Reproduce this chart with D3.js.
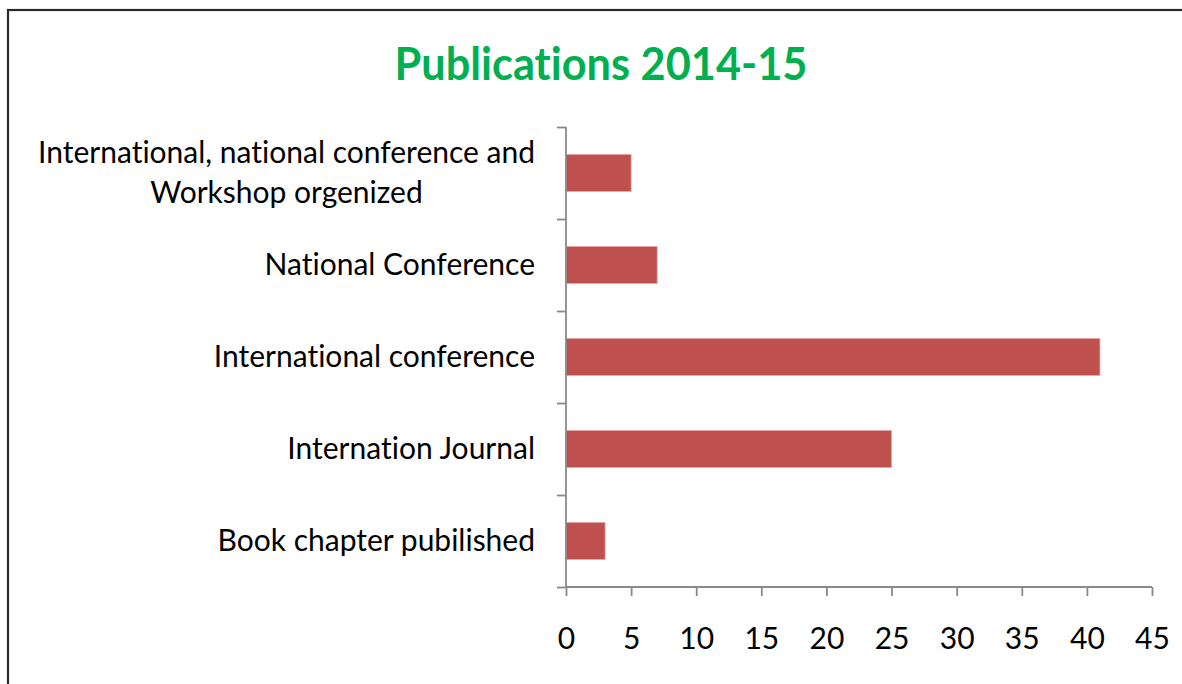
<!DOCTYPE html>
<html>
<head>
<meta charset="utf-8">
<script src="https://cdn.jsdelivr.net/npm/d3@7"></script>
<style>
  html, body { margin: 0; padding: 0; background: #fff; overflow: hidden; }
  text { font-family: Lato, 'Open Sans', sans-serif; font-variant-ligatures: none; }
</style>
</head>
<body>
<div id="box"></div>
<script>
// data, top to bottom as drawn
const categories = [
  'International, national conference and\nWorkshop orgenized',
  'National Conference',
  'International conference',
  'Internation Journal',
  'Book chapter pubilished'
]
const values = [5, 7, 41, 25, 3]
const xTicks = [0, 5, 10, 15, 20, 25, 30, 35, 40, 45]
const title = 'Publications 2014-15'

const width = 1182
const height = 684
const padding = { top: 127, left: 566, right: 30, bottom: 97 }

const axisColor = '#898989'
const barColor = '#C0504D'
const labelSize = 30

const svg = d3.select('#box').append('svg')
  .attr('width', width).attr('height', height)

// outer frame (only left and top edges are visible)
svg.append('rect')
  .attr('x', 8).attr('y', 10)
  .attr('width', 1300).attr('height', 800)
  .attr('fill', 'none')
  .attr('stroke', '#2a2a2a')
  .attr('stroke-width', 2.2)

svg.append('text')
  .attr('x', 601).attr('y', 80)
  .attr('text-anchor', 'middle')
  .attr('fill', '#00B050')
  .attr('font-size', 46)
  .attr('font-weight', 'bold')
  .attr('textLength', 413)
  .attr('lengthAdjust', 'spacingAndGlyphs')
  .text(title)

const plotW = 1152 - padding.left
const plotH = height - padding.top - padding.bottom

const x = d3.scaleLinear()
  .domain([0, d3.max(xTicks)])
  .range([0, plotW])

const y = d3.scaleBand()
  .domain(d3.range(categories.length))
  .range([0, plotH])
  .paddingInner(0.6)
  .paddingOuter(0.3)

// boundaries between the categories, for the y axis ticks
const yEdge = d3.scaleLinear()
  .domain([0, categories.length])
  .range([0, plotH])

const g = svg.append('g')
  .attr('transform', `translate(${padding.left}, ${padding.top})`)

// bars
g.selectAll('rect.bar')
  .data(values)
  .join('rect')
  .attr('class', 'bar')
  .attr('x', 0)
  .attr('y', (d, i) => y(i))
  .attr('width', d => x(d))
  .attr('height', y.bandwidth())
  .attr('fill', barColor)
  .attr('stroke', '#e3a3a1')
  .attr('stroke-width', 0.8)

// y axis
const yAxis = g.append('g')
  .call(d3.axisLeft(yEdge).tickValues(d3.range(categories.length + 1)).tickSize(9).tickFormat(''))
yAxis.select('.domain').attr('stroke', axisColor).attr('stroke-width', 1.8).attr('d', `M0,0V${plotH}`)
yAxis.selectAll('.tick line').attr('stroke', axisColor).attr('stroke-width', 1.8)

// x axis
const xAxis = g.append('g')
  .attr('transform', `translate(0, ${plotH})`)
  .call(d3.axisBottom(x).tickValues(xTicks).tickSize(9))
xAxis.select('.domain').attr('stroke', axisColor).attr('stroke-width', 1.8).attr('d', `M0,0H${plotW}`)
xAxis.selectAll('.tick line').attr('stroke', axisColor).attr('stroke-width', 1.8)
xAxis.selectAll('.tick text')
  .attr('fill', '#000')
  .attr('font-size', labelSize)
  .attr('font-family', 'Lato, sans-serif')
  .attr('y', 62)
  .attr('dy', 0)

// category labels: multiline block right-aligned, lines centered on each other
const lineH = 40
categories.forEach((name, i) => {
  const lines = name.split('\n')
  const cy = padding.top + y(i) + y.bandwidth() / 2
  const t = svg.append('text')
    .attr('font-size', labelSize)
    .attr('fill', '#000')
    .attr('text-anchor', 'middle')
  lines.forEach((line, j) => {
    t.append('tspan')
      .attr('x', 0)
      .attr('y', cy + (j - (lines.length - 1) / 2) * lineH)
      .attr('dy', '0.34em')
      .text(line)
  })
  // shift the block so its right edge sits at x = 535
  const bb = t.node().getBBox()
  t.attr('transform', `translate(${535 - bb.width / 2}, 0)`)
})
</script>
</body>
</html>
